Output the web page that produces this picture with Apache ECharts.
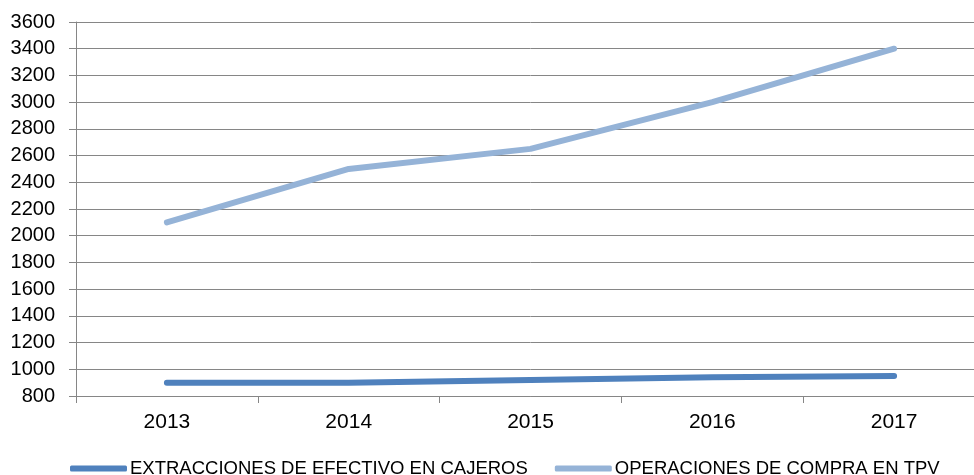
<!DOCTYPE html>
<html>
<head>
<meta charset="utf-8">
<script src="https://cdn.jsdelivr.net/npm/echarts@6/dist/echarts.min.js"></script>
<style>
  html, body { margin: 0; padding: 0; background: #fff; overflow: hidden; }
  #chart { width: 985px; height: 475px; }
</style>
</head>
<body>
<div id="chart"></div>
<script>
var years = ['2013', '2014', '2015', '2016', '2017'];
var cajeros = [900, 900, 920, 940, 950]; // extracciones
var tpv = [2100, 2500, 2650, 3000, 3400]; // operaciones
var nameCajeros = 'EXTRACCIONES DE EFECTIVO EN CAJEROS';
var nameTpv = 'OPERACIONES DE COMPRA EN TPV';

var chart = echarts.init(document.getElementById('chart'));
var fontName = '"Liberation Sans", Arial, sans-serif';
var grayLine = '#868686';

var option = {
    animation: false,
    textStyle: { fontFamily: fontName },
    grid: {
        left: 76,
        top: 22,
        right: 0,
        bottom: 79
    },
    legend: {
        left: 70,
        top: 459,
        padding: 0,
        itemWidth: 57,
        itemHeight: 6,
        itemGap: 27,
        icon: 'roundRect',
        textStyle: { fontSize: 18.5, color: '#000', fontFamily: fontName, padding: [0, 0, 0, -2] },
        data: [nameCajeros, nameTpv]
    },
    xAxis: {
        type: 'category',
        data: years,
        boundaryGap: true,
        axisLine: { lineStyle: { color: grayLine, width: 1 } },
        axisTick: { show: true, length: 7, lineStyle: { color: grayLine } },
        axisLabel: { color: '#000', fontSize: 21, margin: 16 }
    },
    yAxis: {
        type: 'value',
        min: 800,
        max: 3600,
        interval: 200,
        axisLine: { show: true, lineStyle: { color: grayLine, width: 1 } },
        axisTick: { show: true, length: 7, lineStyle: { color: grayLine } },
        axisLabel: {
            color: '#000', fontSize: 20, margin: 21,
            formatter: function (v) { return String(v); }
        },
        splitLine: { lineStyle: { color: grayLine, width: 1 } }
    },
    series: [{
        name: nameCajeros,
        type: 'line',
        data: cajeros,
        symbol: 'none',
        color: '#4F81BD',
        lineStyle: { width: 6, cap: 'round', join: 'round' }
    }, {
        name: nameTpv,
        type: 'line',
        data: tpv,
        symbol: 'none',
        color: '#95B3D7',
        lineStyle: { width: 6, cap: 'round', join: 'round' }
    }]
};
chart.setOption(option);
</script>
</body>
</html>
